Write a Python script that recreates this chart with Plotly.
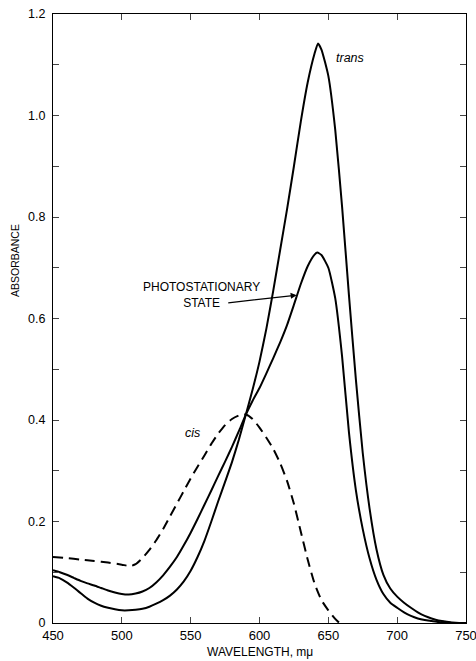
import plotly.graph_objects as go

# ---- data ----
trans_wl = [450, 455, 460, 465, 470, 475, 480, 485, 490, 495, 500, 505, 510, 515, 520, 525, 530, 535,
            540, 545, 550, 555, 560, 565, 570, 575, 580, 585, 590, 595, 600, 605, 610, 615, 620, 625,
            630, 635, 640, 642.5, 645, 650, 655, 660, 665, 670, 675, 680, 685, 690, 695, 700, 705,
            710, 715, 720, 725, 730, 735, 740, 745, 750]
trans_abs = [0.092, 0.088, 0.080, 0.070, 0.059, 0.048, 0.040, 0.034, 0.030, 0.027, 0.025, 0.025, 0.026,
             0.028, 0.032, 0.038, 0.045, 0.054, 0.066, 0.082, 0.103, 0.130, 0.162, 0.200, 0.240, 0.278,
             0.317, 0.361, 0.410, 0.460, 0.515, 0.580, 0.655, 0.735, 0.815, 0.900, 0.988, 1.065, 1.122,
             1.142, 1.130, 1.078, 0.972, 0.820, 0.645, 0.480, 0.335, 0.225, 0.145, 0.095, 0.068, 0.052,
             0.040, 0.030, 0.021, 0.014, 0.009, 0.005, 0.003, 0.001, 0.000, 0.000]

photo_wl = [450, 455, 460, 465, 470, 475, 480, 485, 490, 495, 500, 505, 510, 515, 520, 525, 530, 535,
            540, 545, 550, 555, 560, 565, 570, 575, 580, 585, 590, 595, 600, 605, 610, 615, 620, 625,
            630, 635, 640, 642, 645, 650, 655, 660, 665, 670, 675, 680, 685, 690, 695, 700, 705, 710,
            715, 720, 725, 730, 735, 740]
photo_abs = [0.104, 0.100, 0.095, 0.089, 0.083, 0.078, 0.074, 0.069, 0.064, 0.060, 0.057, 0.056, 0.058,
             0.062, 0.069, 0.080, 0.094, 0.111, 0.130, 0.153, 0.178, 0.205, 0.233, 0.261, 0.290, 0.318,
             0.347, 0.378, 0.410, 0.438, 0.463, 0.492, 0.522, 0.553, 0.587, 0.627, 0.668, 0.703, 0.726,
             0.730, 0.725, 0.700, 0.640, 0.525, 0.375, 0.262, 0.185, 0.127, 0.085, 0.057, 0.040, 0.030,
             0.021, 0.014, 0.009, 0.006, 0.004, 0.002, 0.001, 0.000]

cis_wl = [450, 460, 470, 480, 490, 500, 506, 510, 515, 520, 525, 530, 535, 540, 545, 550, 555, 560,
          565, 570, 575, 580, 585, 590, 595, 600, 605, 610, 615, 620, 625, 630, 635, 640, 645, 650,
          655, 658]
cis_abs = [0.130, 0.128, 0.125, 0.122, 0.119, 0.115, 0.112, 0.116, 0.128, 0.144, 0.163, 0.185, 0.210,
           0.235, 0.260, 0.285, 0.308, 0.330, 0.353, 0.373, 0.390, 0.402, 0.409, 0.411, 0.402, 0.385,
           0.365, 0.343, 0.315, 0.280, 0.235, 0.180, 0.125, 0.078, 0.045, 0.025, 0.008, 0.000]

x_ticks = [450, 500, 550, 600, 650, 700, 750]
y_ticks = [0, 0.2, 0.4, 0.6, 0.8, 1.0, 1.2]
y_tick_text = ["0", "0.2", "0.4", "0.6", "0.8", "1.0", "1.2"]

FONT = "Liberation Sans, Arial, sans-serif"
plot_l, plot_r, plot_t, plot_b = 53, 466, 14, 623

fig = go.Figure()
for wl, ab, dash in [(trans_wl, trans_abs, "solid"), (photo_wl, photo_abs, "solid"),
                     (cis_wl, cis_abs, "10px,6px")]:
    fig.add_trace(go.Scatter(x=wl, y=ab, mode="lines",
                             line=dict(color="black", width=2, shape="spline", smoothing=0.5,
                                       dash=dash),
                             showlegend=False, hoverinfo="skip"))

fig.update_layout(
    width=476, height=661,
    margin=dict(l=plot_l, r=476 - plot_r, t=plot_t, b=661 - plot_b, autoexpand=False),
    paper_bgcolor="white", plot_bgcolor="white",
    font=dict(family=FONT, size=12, color="black"),
    xaxis=dict(range=[450, 750], tickvals=x_ticks, ticks="inside", ticklen=6, tickwidth=1,
               showline=True, linecolor="black", linewidth=1.2, mirror="allticks",
               showgrid=False, zeroline=False, automargin=False, ticklabeloverflow="allow",
               tickfont=dict(size=13, family=FONT)),
    yaxis=dict(range=[0, 1.2], tickvals=y_ticks, ticktext=y_tick_text, ticks="inside",
               ticklen=6, tickwidth=1, showline=True, linecolor="black", linewidth=1.2,
               mirror="allticks", showgrid=False, zeroline=False, automargin=False,
               ticklabeloverflow="allow",
               ticklabelstandoff=4, tickfont=dict(size=12.5, family=FONT),
               minor=dict(dtick=0.1, tick0=0, ticks="inside", ticklen=6, tickwidth=1,
                          showgrid=False)),
    annotations=[
        dict(x=0.5, y=0, xref="paper", yref="paper", yshift=-29, yanchor="middle",
             text="WAVELENGTH, m\u03bc", showarrow=False, font=dict(size=12, family=FONT)),
        dict(x=(15 - plot_l) / (plot_r - plot_l), y=(plot_b - 261) / (plot_b - plot_t),
             xref="paper", yref="paper", xanchor="center", yanchor="middle",
             text="ABSORBANCE", textangle=-90, showarrow=False,
             font=dict(size=10.5, family=FONT)),
        dict(x=665.5, y=1.113, xref="x", yref="y", text="<i>trans</i>", showarrow=False,
             font=dict(size=12.5, family=FONT)),
        dict(x=551.5, y=0.374, xref="x", yref="y", text="<i>cis</i>", showarrow=False,
             font=dict(size=12.5, family=FONT)),
        dict(x=557.9, y=0.6455, xref="x", yref="y", text="PHOTOSTATIONARY<br>STATE",
             showarrow=False, font=dict(size=12, family=FONT), align="center"),
        dict(x=627, y=0.646, xref="x", yref="y", ax=576.2, ay=0.6305, axref="x", ayref="y",
             text="", showarrow=True, arrowhead=2, arrowsize=1, arrowwidth=1.2,
             arrowcolor="black"),
    ],
)

fig.write_html("out.html")
